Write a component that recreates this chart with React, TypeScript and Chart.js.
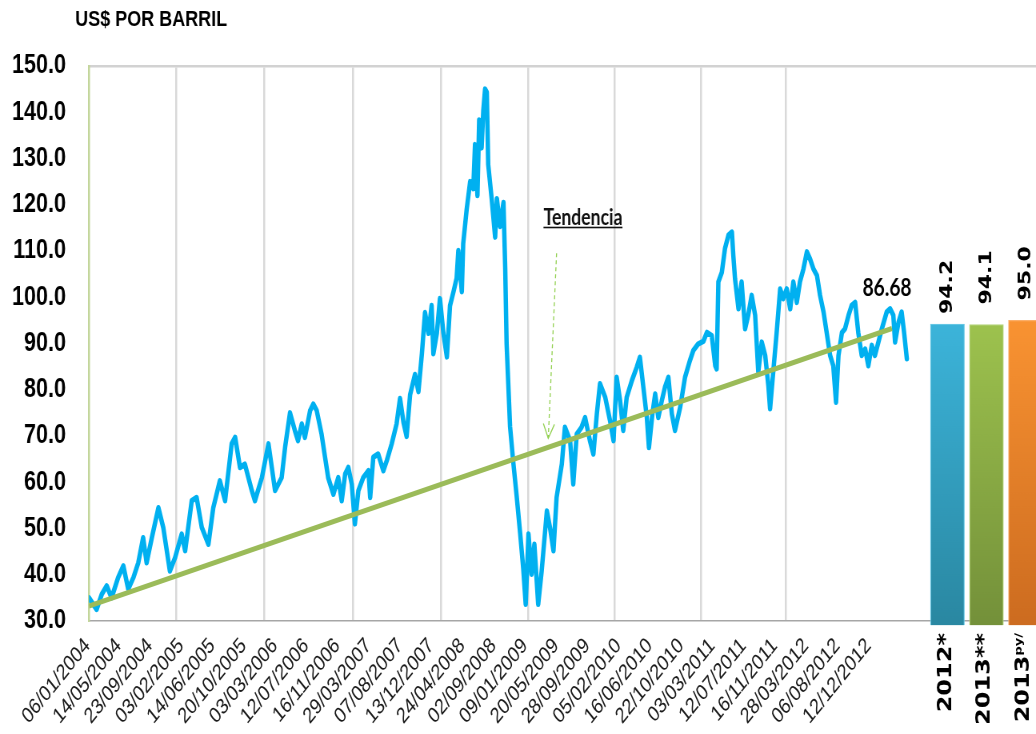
import { useEffect, useRef } from "react";
import { Chart, registerables } from "chart.js";

Chart.register(...registerables);

// The reference picture is compressed horizontally; we draw wider and display at 1036px.
const SQUISH = 0.8;
const VIEW_W = 1036;
const VIEW_H = 734;
const DRAW_W = Math.round(VIEW_W / SQUISH);

const chartTitle = "US$ POR BARRIL";

const dateLabels = [
  "06/01/2004", "14/05/2004", "23/09/2004", "03/02/2005", "14/06/2005", "20/10/2005",
  "03/03/2006", "12/07/2006", "16/11/2006", "29/03/2007", "07/08/2007", "13/12/2007",
  "24/04/2008", "02/09/2008", "09/01/2009", "20/05/2009", "28/09/2009", "05/02/2010",
  "16/06/2010", "22/10/2010", "03/03/2011", "12/07/2011", "16/11/2011", "28/03/2012",
  "06/08/2012", "12/12/2012",
];
const daysPerLabel = 90; // trading days between two date labels
const yearStartDays = [251, 504, 760, 1014, 1265, 1513, 1763, 2008];
const axisEndDay = 2728;

const yMin = 30;
const yMax = 150;
const yStep = 10;

// WTI daily price (trading-day number, US$ per barrel)
const tradingDay = [
  0, 22, 37, 51, 65, 84, 99, 113, 128, 142, 156, 166, 181, 200, 214, 233, 248, 267, 277, 296,
  310, 325, 344, 358, 377, 392, 411, 421, 435, 449, 469, 478, 498, 517, 536, 555, 565, 579,
  593, 602, 613, 622, 637, 646, 656, 670, 680, 689, 704, 718, 728, 738, 747, 757, 766, 776,
  790, 805, 810, 819, 833, 848, 858, 872, 886,
  896, 906, 915, 925, 939, 949, 959, 968, 978, 987, 992, 1002, 1011, 1021, 1031, 1040, 1050,
  1059, 1064, 1074, 1078, 1088, 1098, 1107, 1112, 1119, 1124, 1131, 1136, 1141, 1146, 1150,
  1160, 1170, 1175, 1184, 1194, 1199, 1203, 1213, 1222, 1232, 1242, 1251, 1258, 1266, 1275,
  1283, 1294, 1304, 1319, 1328, 1338, 1347, 1362, 1371, 1386, 1395, 1405, 1419, 1429, 1443,
  1453, 1463, 1472, 1487, 1501, 1511, 1520, 1530, 1539, 1549, 1564, 1578, 1587, 1597, 1607,
  1613, 1623, 1631, 1640, 1650, 1659, 1669, 1679, 1688, 1703, 1717, 1731, 1741, 1755, 1770,
  1780, 1794, 1804, 1808, 1813, 1823, 1832, 1842, 1852, 1856, 1861, 1871, 1880, 1890, 1899,
  1909, 1919, 1928, 1938, 1948, 1957, 1962, 1971, 1981, 1991, 2000, 2010, 2020, 2029, 2039,
  2048, 2058, 2068, 2077, 2087, 2097, 2106, 2116, 2125, 2135, 2144, 2152, 2159, 2169, 2178,
  2188, 2197, 2207, 2216, 2226, 2236, 2245, 2255, 2264, 2274, 2284, 2298, 2308, 2317, 2322,
  2332, 2341, 2348, 2356,
];
const wtiPrice = [
  35.0, 32.5, 35.8, 37.6, 35.0, 39.4, 41.9, 36.9, 39.4, 42.6, 48.0, 42.6, 48.0, 54.5, 50.2, 40.8,
  43.7, 48.8, 45.2, 56.0, 56.7, 50.2, 46.6, 54.5, 60.3, 56.0, 68.3, 69.7, 63.2, 63.9, 58.2, 56.0,
  61.0, 68.3, 58.2, 61.0, 67.6, 75.0, 71.2, 69.0, 72.6, 69.7, 75.5, 76.9, 75.5, 70.4, 65.4, 61.0,
  57.4, 61.0, 56.0, 61.8, 63.2, 59.6, 51.0, 58.2, 61.0, 62.5, 56.7, 65.4, 66.1, 62.5, 64.7, 68.3,
  72.6,
  78.1, 72.9, 69.9, 78.9, 83.3, 79.6, 87.8, 96.7, 92.2, 98.2, 87.8, 92.2, 99.7, 92.2, 87.1, 98.2,
  101.2, 104.1, 110.1, 101.2, 111.6, 119.0, 125.0, 123.5, 133.0, 122.0, 138.3, 132.3, 140.5,
  145.0, 144.3, 128.7, 121.3, 113.0, 121.3, 115.3, 120.5, 106.3, 90.0, 72.0, 64.5, 57.0, 49.0,
  41.3, 33.6, 48.8, 40.1, 46.6, 33.6, 40.8, 53.8, 50.2, 45.2, 56.7, 63.9, 71.9, 69.0, 59.6, 70.4,
  71.9, 74.0, 69.0, 66.1, 74.8, 81.3, 78.4, 73.3, 69.0, 82.7, 77.6, 71.2, 78.4, 82.0, 84.9, 87.0,
  80.5, 74.0, 67.5, 74.8, 79.1, 74.0, 77.6, 80.5, 82.7, 74.8, 71.2, 76.2, 82.7, 86.3, 88.5, 89.9,
  90.5, 92.4, 91.7, 85.2, 84.5, 103.3, 105.4, 110.5, 113.4, 114.1, 109.1, 104.0, 97.5, 103.3,
  93.2, 96.1, 100.4, 96.1, 83.8, 90.3, 87.4, 80.9, 75.9, 83.8, 92.4, 101.8, 99.7, 101.8, 97.5,
  103.3, 98.9, 103.3, 106.1, 109.8, 108.3, 106.1, 104.7, 100.4, 96.8, 92.4, 87.4, 85.2, 77.3,
  87.4, 92.4, 93.2, 96.1, 98.2, 98.9, 92.4, 87.4, 88.8, 85.2, 89.6, 87.4, 90.3, 93.2, 96.8, 97.5,
  96.1, 90.3, 94.6, 96.8, 92.4, 86.68,
];

const trendDay = [0, 2313];
const trendPrice = [33.25, 93.24];

const forecastLabels = ["2012*", "2013**", "2013"];
const forecastSuffix = ["", "", "py/"];
const forecastValues = [94.2, 94.1, 95.0];

const lastPriceText = "86.68";
const lastPriceAt = [2299, 101.9];
const trendNote = "Tendencia";
const trendNoteAt = [1423, 117.2];
const arrowFrom = [1347, 109.5];
const arrowTo = [1323, 69.5];

// style
const LINE_BLUE = "#00B0F0";
const TREND_GREEN = "#9BBB59";
const ARROW_GREEN = "#92D050";
const BAR_TOP = ["#3CB4DA", "#9DC24E", "#F99332"];
const BAR_BOTTOM = ["#2A88A2", "#74913A", "#CD6C20"];
const BAR_EDGE = ["#64C6E4", "#B5D57C", "#FBAE68"];
const FORECAST_AXIS = { min: -22.0, max: 2.27 };
const VALUE_LABEL_GAP = [10, 20, 20];

const overlayPlugin = {
  id: "overlay",
  afterDatasetsDraw(chart: any) {
    const { ctx, scales, chartArea } = chart;
    const x = scales.x;
    const y = scales.y;
    ctx.save();

    // title
    ctx.fillStyle = "#000";
    ctx.font = "bold 22.5px 'Liberation Sans', Arial, sans-serif";
    ctx.textAlign = "left";
    ctx.textBaseline = "alphabetic";
    ctx.fillText(chartTitle, 94, 26);

    // trend arrow (dashed)
    const x1 = x.getPixelForValue(arrowFrom[0]);
    const y1 = y.getPixelForValue(arrowFrom[1]);
    const x2 = x.getPixelForValue(arrowTo[0]);
    const y2 = y.getPixelForValue(arrowTo[1]);
    ctx.strokeStyle = ARROW_GREEN;
    ctx.lineWidth = 1.3;
    ctx.setLineDash([4, 3]);
    ctx.beginPath();
    ctx.moveTo(x1, y1);
    ctx.lineTo(x2, y2);
    ctx.stroke();
    ctx.setLineDash([]);
    const ang = Math.atan2(y2 - y1, x2 - x1);
    const head = 16;
    ctx.beginPath();
    ctx.moveTo(x2 - head * Math.cos(ang - 0.45), y2 - head * Math.sin(ang - 0.45));
    ctx.lineTo(x2, y2);
    ctx.lineTo(x2 - head * Math.cos(ang + 0.45), y2 - head * Math.sin(ang + 0.45));
    ctx.stroke();

    // "Tendencia" label, underlined
    ctx.font = "bold 22px Lato, 'Open Sans', sans-serif";
    ctx.fillStyle = "#111";
    ctx.textAlign = "center";
    ctx.textBaseline = "middle";
    const tx = x.getPixelForValue(trendNoteAt[0]);
    const ty = y.getPixelForValue(trendNoteAt[1]);
    ctx.fillText(trendNote, tx, ty);
    const tw = ctx.measureText(trendNote).width;
    ctx.fillRect(tx - tw / 2, ty + 9, tw, 1.6);

    // last price label
    ctx.font = "bold 24px Lato, 'Open Sans', sans-serif";
    ctx.fillStyle = "#000";
    ctx.fillText(lastPriceText, x.getPixelForValue(lastPriceAt[0]), y.getPixelForValue(lastPriceAt[1]));

    // forecast bars: values above, categories below the axis
    const meta = chart.getDatasetMeta(2);
    meta.data.forEach((bar: any, i: number) => {
      ctx.save();
      ctx.translate(bar.x, bar.y - VALUE_LABEL_GAP[i]);
      ctx.rotate(-Math.PI / 2);
      ctx.font = "bold 22px 'DejaVu Sans', Verdana, sans-serif";
      ctx.fillStyle = "#000";
      ctx.textAlign = "left";
      ctx.textBaseline = "middle";
      ctx.fillText(forecastValues[i].toFixed(1), 0, 0);
      ctx.restore();

      ctx.save();
      ctx.translate(bar.x - 2, chartArea.bottom + 12);
      ctx.rotate(-Math.PI / 2);
      ctx.fillStyle = "#000";
      ctx.textBaseline = "middle";
      const mainFont = "bold 24px 'DejaVu Sans', Verdana, sans-serif";
      const supFont = "bold 13px 'DejaVu Sans', Verdana, sans-serif";
      ctx.font = mainFont;
      const mw = ctx.measureText(forecastLabels[i]).width;
      ctx.font = supFont;
      const sw = forecastSuffix[i] ? ctx.measureText(forecastSuffix[i]).width : 0;
      ctx.textAlign = "left";
      ctx.font = mainFont;
      ctx.fillText(forecastLabels[i], -(mw + sw), 0);
      if (forecastSuffix[i]) {
        ctx.font = supFont;
        ctx.fillText(forecastSuffix[i], -sw, -6);
      }
      ctx.restore();
    });

    ctx.restore();
  },
};

export default function App() {
  const canvasRef = useRef<HTMLCanvasElement | null>(null);

  useEffect(() => {
    document.body.style.margin = "0";
    const canvas = canvasRef.current;
    if (!canvas) return;

    const pricePoints = tradingDay.map((d, i) => ({ x: d, y: wtiPrice[i] }));
    const trendPoints = trendDay.map((d, i) => ({ x: d, y: trendPrice[i] }));
    const barPoints = forecastValues.map((v, i) => ({ x: i, y: v }));

    const barFill = (c: any) => {
      const i = c.dataIndex;
      const chart = c.chart;
      const area = chart.chartArea;
      if (!area || !chart.scales.y) return BAR_TOP[i];
      const top = chart.scales.y.getPixelForValue(forecastValues[i]);
      const g = chart.ctx.createLinearGradient(0, top, 0, area.bottom);
      g.addColorStop(0, BAR_TOP[i]);
      g.addColorStop(1, BAR_BOTTOM[i]);
      return g;
    };

    const chart = new Chart(canvas, {
      type: "line",
      data: {
        datasets: [
          {
            label: "Tendencia",
            data: trendPoints,
            borderColor: TREND_GREEN,
            borderWidth: 5,
            pointRadius: 0,
            xAxisID: "x",
            yAxisID: "y",
          } as any,
          {
            label: "WTI",
            data: pricePoints,
            borderColor: LINE_BLUE,
            borderWidth: 5.5,
            pointRadius: 0,
            tension: 0,
            borderJoinStyle: "round",
            borderCapStyle: "round",
            xAxisID: "x",
            yAxisID: "y",
          },
          {
            type: "bar",
            label: "Pronóstico",
            data: barPoints,
            xAxisID: "xBar",
            yAxisID: "y",
            grouped: false,
            barPercentage: 1,
            categoryPercentage: 1,
            maxBarThickness: 42.5,
            base: 29.1,
            backgroundColor: barFill,
            borderColor: BAR_EDGE,
            borderWidth: 1.2,
            clip: { left: 0, top: 0, right: 0, bottom: 14 },
          } as any,
        ],
      },
      options: {
        responsive: false,
        devicePixelRatio: 1,
        animation: false,
        events: [],
        layout: { padding: { top: 66, left: 0, right: 0, bottom: 0 } },
        plugins: {
          legend: { display: false },
          tooltip: { enabled: false },
          title: { display: false },
        },
        scales: {
          x: {
            type: "linear",
            position: "bottom",
            min: 0,
            max: axisEndDay,
            offset: false,
            afterBuildTicks: (s: any) => {
              s.ticks = dateLabels.map((_, i) => ({ value: i * daysPerLabel }));
            },
            afterFit: (s: any) => {
              s.height = VIEW_H - 621;
            },
            grid: { display: false, drawTicks: false },
            border: { display: true, color: "#A6A6A6", width: 1.6 },
            ticks: {
              autoSkip: false,
              minRotation: 45,
              maxRotation: 45,
              padding: 12,
              labelOffset: -2,
              color: "#1a1a1a",
              font: { family: "'Liberation Sans', Arial, sans-serif", size: 22 },
              callback: (v: any) => dateLabels[Math.round(Number(v) / daysPerLabel)] ?? "",
            },
          },
          xGrid: {
            type: "linear",
            position: "top",
            min: 0,
            max: axisEndDay,
            afterBuildTicks: (s: any) => {
              s.ticks = yearStartDays.map((d) => ({ value: d }));
            },
            afterFit: (s: any) => {
              s.height = 0;
            },
            grid: { display: true, color: "#D9D9D9", lineWidth: 2.5, drawTicks: false },
            border: { display: true, color: "#D2D2D2", width: 2.5 },
            ticks: { display: false },
          },
          xBar: {
            type: "linear",
            display: false,
            offset: false,
            grid: { offset: false },
            min: FORECAST_AXIS.min,
            max: FORECAST_AXIS.max,
          },
          y: {
            type: "linear",
            min: yMin,
            max: yMax,
            beginAtZero: false,
            afterFit: (s: any) => {
              s.width = 89 / SQUISH;
            },
            grid: { display: false, drawTicks: false },
            border: { display: true, color: "#C3D69B", width: 2.5 },
            ticks: {
              stepSize: yStep,
              padding: 89 / SQUISH - 66 / SQUISH,
              color: "#000",
              font: { family: "'Liberation Sans', Arial, sans-serif", size: 27, weight: "bold" },
              callback: (v: any) => Number(v).toFixed(1),
            },
          },
        } as any,
      },
      plugins: [overlayPlugin],
    });

    return () => chart.destroy();
  }, []);

  return (
    <div style={{ width: VIEW_W, height: VIEW_H, overflow: "hidden", background: "#fff" }}>
      <canvas
        ref={canvasRef}
        width={DRAW_W}
        height={VIEW_H}
        style={{ width: `${VIEW_W}px`, height: `${VIEW_H}px`, display: "block" }}
      />
    </div>
  );
}
